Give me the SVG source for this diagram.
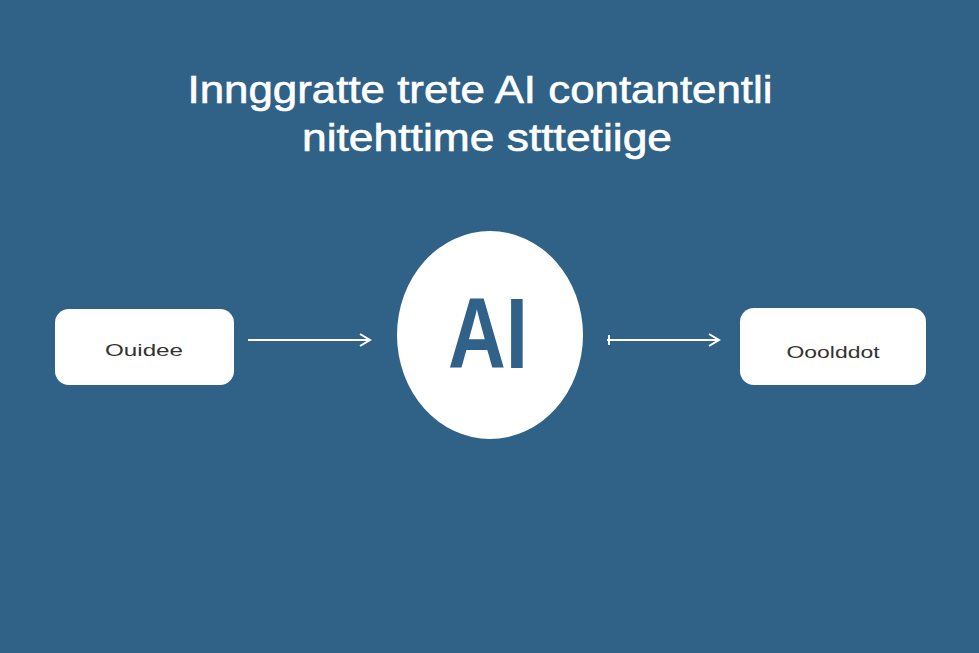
<svg xmlns="http://www.w3.org/2000/svg" width="979" height="653" viewBox="0 0 979 653">
<style>
.title{font-family:"Liberation Sans",Arial,sans-serif;font-size:38px;fill:#ffffff;text-anchor:middle;stroke:#ffffff;stroke-width:0.6}
.box{fill:#ffffff}
.lbl{font-family:"Liberation Sans",Arial,sans-serif;font-size:17px;fill:#333333;text-anchor:middle}
.conn{stroke:#ffffff;stroke-width:2;fill:none}
</style>
<defs>
<marker id="arr" markerWidth="14" markerHeight="14" refX="11" refY="7" orient="auto" markerUnits="userSpaceOnUse">
<path d="M2,1 L12,7 L2,13" fill="none" stroke="#ffffff" stroke-width="2"/>
</marker>
</defs>
<rect width="979" height="653" fill="#306288"/>
<g id="title">
<text class="title" x="480" y="103" textLength="585" lengthAdjust="spacingAndGlyphs">Innggratte  trete AI contantentli</text>
<text class="title" x="487" y="151" textLength="370" lengthAdjust="spacingAndGlyphs">nitehttime stttetiige</text>
</g>
<g id="connectors">
<line class="conn" x1="248" y1="340" x2="369" y2="340" marker-end="url(#arr)"/>
<line class="conn" x1="607" y1="340" x2="718" y2="340" marker-end="url(#arr)"/>
<line class="conn" x1="609" y1="335" x2="609" y2="345"/>
</g>
<g id="input">
<rect class="box" x="55" y="309" width="179" height="76" rx="14"/>
<text class="lbl" x="144" y="356" textLength="78" lengthAdjust="spacingAndGlyphs">Ouidee</text>
</g>
<g id="ai">
<ellipse cx="490" cy="335" rx="93" ry="104" fill="#ffffff"/>
<text x="488" y="368" font-family="Liberation Sans,Arial,sans-serif" font-weight="bold" font-size="100" fill="#2f6189" text-anchor="middle" textLength="80" lengthAdjust="spacingAndGlyphs">AI</text>
</g>
<g id="output">
<rect class="box" x="740" y="308" width="186" height="77" rx="14"/>
<text class="lbl" x="833" y="358" textLength="93" lengthAdjust="spacingAndGlyphs">Ooolddot</text>
</g>
</svg>
